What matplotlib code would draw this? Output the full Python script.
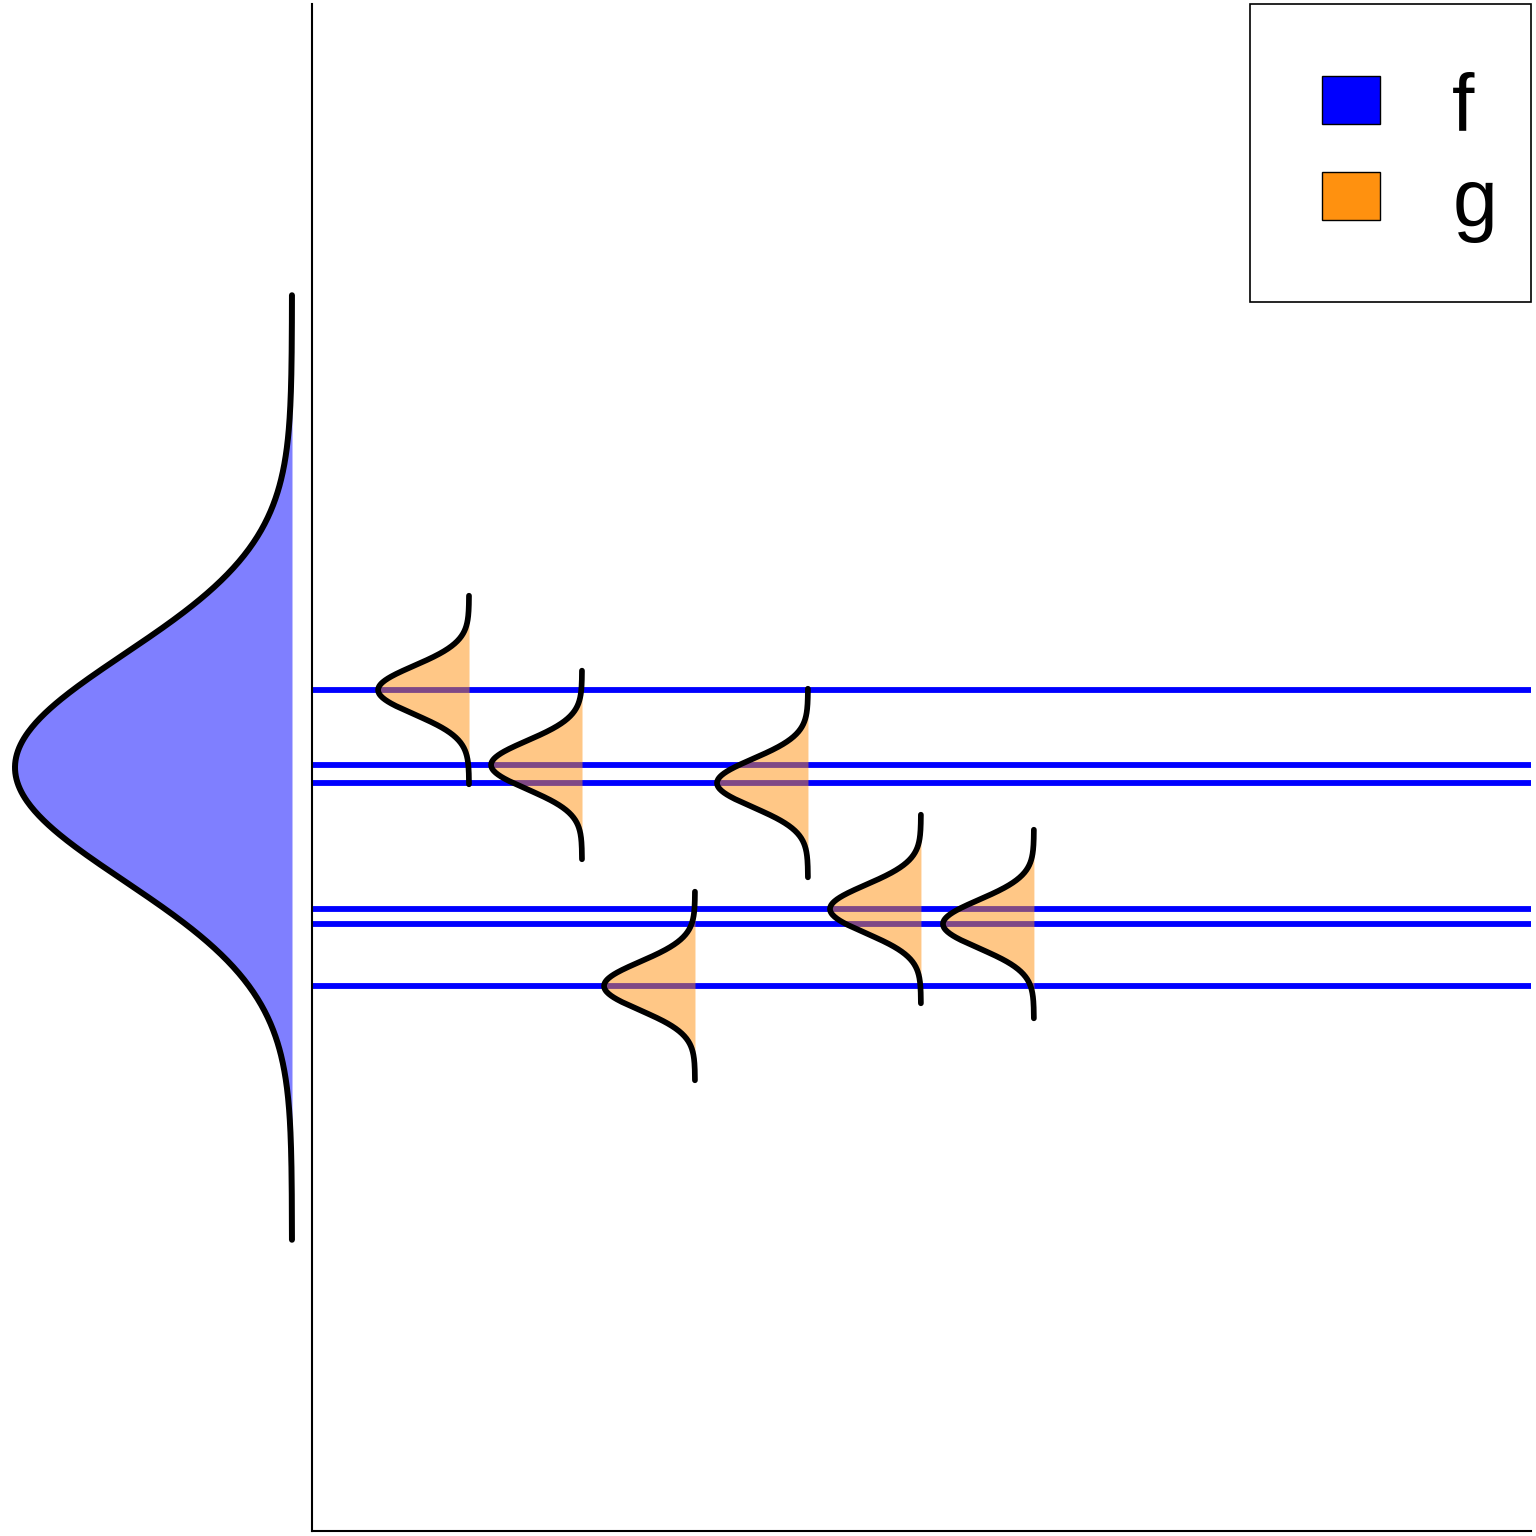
import numpy as np
import matplotlib
matplotlib.use("Agg")
import matplotlib.pyplot as plt
from matplotlib.patches import Rectangle, Patch
from matplotlib.legend_handler import HandlerPatch

# ---- data ----
f_mu = 0.0
f_sigma = 0.89
g_sigma = 0.19
obs_x = [1, 2, 3, 4, 5, 6]
obs_y = [0.609, 0.020, -1.717, -0.122, -1.112, -1.230]
legend_labels = ["f", "g"]
legend_colors = ["#0000ff", "#ff910f"]

# ---- style ----
F_SPAN = 4.17      # curve drawn over +/- F_SPAN sigma
G_SPAN = 3.9
G_AMP = 0.805      # width of small densities in x units
BLUE = "#0000ff"
ORANGE = "#ff910f"

DPI = 100
fig = plt.figure(figsize=(15.36, 15.36), dpi=DPI)
W = 1536.0
ax_bottom = 5 / W
ax_height = 1527 / W
ax = fig.add_axes([312 / W, ax_bottom, 1219 / W, ax_height])
axl = fig.add_axes([0, ax_bottom, 312 / W, ax_height], sharey=ax)

ylim = (-6, 6)
ax.set_ylim(*ylim)
ax.set_xlim(-0.39, 10.40)

# ---- left: population density f ----
yy = np.linspace(f_mu - F_SPAN * f_sigma, f_mu + F_SPAN * f_sigma, 600)
dens = np.exp(-0.5 * ((yy - f_mu) / f_sigma) ** 2)
axl.fill_betweenx(yy, -dens, 0, color=BLUE, alpha=0.5, linewidth=0, zorder=2)
axl.plot(-dens, yy, color="black", lw=4.3, solid_capstyle="round", zorder=3)
axl.set_xlim(-292 / 277.0, 20 / 277.0)
axl.axis("off")

# ---- main: observations ----
for xv, yv in zip(obs_x, obs_y):
    ax.axhline(yv, color=BLUE, lw=4.2, zorder=1)
for xv, yv in zip(obs_x, obs_y):
    y = np.linspace(yv - G_SPAN * g_sigma, yv + G_SPAN * g_sigma, 300)
    d = G_AMP * np.exp(-0.5 * ((y - yv) / g_sigma) ** 2)
    ax.fill_betweenx(y, xv - d, xv, color=ORANGE, alpha=0.5, linewidth=0, zorder=2)
    ax.plot(xv - d, y, color="black", lw=4.1, solid_capstyle="round", zorder=3)

for s in ["top", "right"]:
    ax.spines[s].set_visible(False)
for s in ["left", "bottom"]:
    ax.spines[s].set_linewidth(1.5)
    ax.spines[s].set_color("black")
ax.set_xticks([])
ax.set_yticks([])

# ---- legend ----
PT = 72.0 / DPI  # points per pixel
FS = 58
F_PX = FS / PT
PAD_PX = 34.0
A_PX = 126.0 - PAD_PX                       # row extent above baseline
HH = (A_PX / F_PX - 0.49) / 0.3              # handleheight giving that extent
D_PX = 0.35 * F_PX * (HH - 0.7)             # row extent below baseline
LS_PX = 96.0 - (A_PX + D_PX)                # row pitch 96 px


def swatch(legend, orig_handle, xdescent, ydescent, width, height, fontsize):
    w = 58 * PT
    h = 48 * PT
    return Rectangle((-xdescent + width - w, 6 * PT), w, h)


handles = [Patch(facecolor=c, edgecolor="black", linewidth=1.0) for c in legend_colors]
leg = ax.legend(
    handles, legend_labels,
    loc="upper right", bbox_to_anchor=(1, 1), borderaxespad=0,
    prop={"family": "Liberation Sans", "size": FS},
    handlelength=96 * PT / FS, handleheight=HH,
    handletextpad=72 * PT / FS, borderpad=PAD_PX * PT / FS,
    labelspacing=LS_PX * PT / FS,
    fancybox=False, framealpha=1, edgecolor="black",
    handler_map={Patch: HandlerPatch(patch_func=swatch)},
)
leg.get_frame().set_linewidth(1.2)
leg.set_zorder(10)

fig.savefig("out.png", dpi=DPI)
